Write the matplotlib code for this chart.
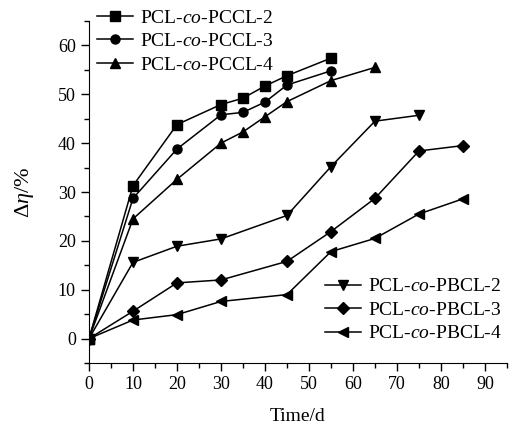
import matplotlib
matplotlib.use('Agg')
import matplotlib.pyplot as plt
from matplotlib.ticker import MultipleLocator

plt.rcParams['font.family'] = ['Liberation Serif', 'DejaVu Serif']
plt.rcParams['mathtext.fontset'] = 'custom'
plt.rcParams['mathtext.rm'] = 'Liberation Serif'
plt.rcParams['mathtext.it'] = 'Liberation Serif:italic'

# PCL-co-PCCL series
t_pccl2 = [0, 10, 20, 30, 35, 40, 45, 55]
pccl2 = [0, 31.3, 43.8, 47.9, 49.2, 51.7, 53.8, 57.4]
t_pccl3 = [0, 10, 20, 30, 35, 40, 45, 55]
pccl3 = [0, 28.7, 38.8, 45.8, 46.3, 48.4, 51.9, 54.8]
t_pccl4 = [0, 10, 20, 30, 35, 40, 45, 55, 65]
pccl4 = [0, 24.5, 32.6, 40.0, 42.3, 45.4, 48.5, 52.8, 55.5]

# PCL-co-PBCL series
t_pbcl2 = [0, 10, 20, 30, 45, 55, 65, 75]
pbcl2 = [0, 15.6, 18.9, 20.4, 25.2, 35.2, 44.5, 45.7]
t_pbcl3 = [0, 10, 20, 30, 45, 55, 65, 75, 85]
pbcl3 = [0, 5.6, 11.4, 12.0, 15.8, 21.9, 28.7, 38.4, 39.5]
t_pbcl4 = [0, 10, 20, 30, 45, 55, 65, 75, 85]
pbcl4 = [0, 3.8, 4.9, 7.6, 9.0, 17.8, 20.5, 25.5, 28.6]

fig = plt.figure(figsize=(5.1, 4.32), dpi=100)
ax = fig.add_axes([0.1745, 0.1597, 0.8195, 0.7917])

style = dict(color='black', lw=1.1, markersize=6.5)
h1, = ax.plot(t_pccl2, pccl2, marker='s', label='PCL-$\\mathit{co}$-PCCL-2', **style)
h2, = ax.plot(t_pccl3, pccl3, marker='o', label='PCL-$\\mathit{co}$-PCCL-3', **style)
h3, = ax.plot(t_pccl4, pccl4, marker='^', label='PCL-$\\mathit{co}$-PCCL-4', **style)
h4, = ax.plot(t_pbcl2, pbcl2, marker='v', label='PCL-$\\mathit{co}$-PBCL-2', **style)
h5, = ax.plot(t_pbcl3, pbcl3, marker='D', markersize=6, color='black', lw=1.1,
              label='PCL-$\\mathit{co}$-PBCL-3')
h6, = ax.plot(t_pbcl4, pbcl4, marker='<', label='PCL-$\\mathit{co}$-PBCL-4', **style)

ax.set_xlim(0, 95)
ax.set_ylim(-5, 65)
ax.xaxis.set_major_locator(MultipleLocator(10))
ax.xaxis.set_minor_locator(MultipleLocator(5))
ax.yaxis.set_major_locator(MultipleLocator(10))
ax.yaxis.set_minor_locator(MultipleLocator(5))
ax.spines['top'].set_visible(False)
ax.spines['right'].set_visible(False)
ax.tick_params(which='major', direction='out', length=6, width=1, labelsize=13)
ax.tick_params(which='minor', direction='out', length=3.5, width=1)

ax.set_xlabel('Time/d', fontsize=14, labelpad=11)
ax.set_ylabel('$\\Delta\\mathit{\\eta}$/%', fontsize=16, labelpad=16)

leg_kw = dict(frameon=False, fontsize=14, handlelength=1.85, handletextpad=0.35,
              labelspacing=0.3, borderpad=0, borderaxespad=0)
leg1 = ax.legend(handles=[h1, h2, h3], loc='upper left',
                 bbox_to_anchor=(0.019, 1.035), **leg_kw)
ax.add_artist(leg1)
ax.legend(handles=[h4, h5, h6], loc='upper left',
          bbox_to_anchor=(0.565, 0.249), **leg_kw)

fig.savefig('out.png', dpi=100)
